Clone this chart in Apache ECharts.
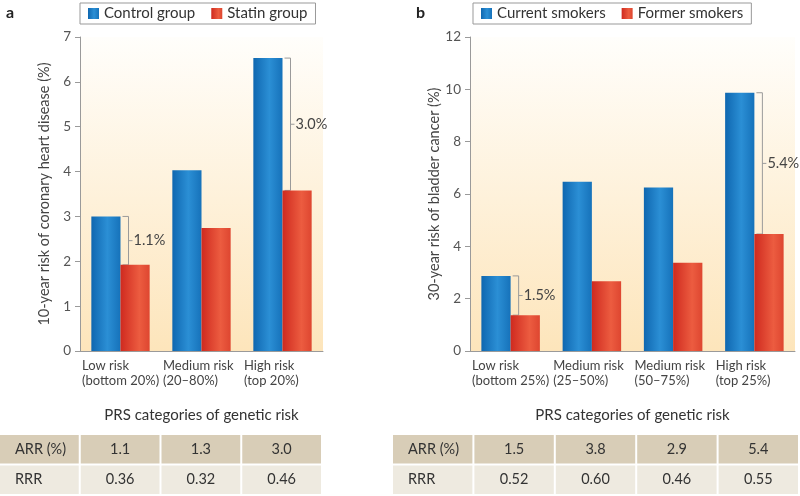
<!DOCTYPE html>
<html>
<head>
<meta charset="utf-8">
<script src="https://cdn.jsdelivr.net/npm/echarts@6/dist/echarts.min.js"></script>
<style>
  html, body { margin: 0; padding: 0; background: #fff; }
  #main { width: 800px; height: 496px; }
</style>
</head>
<body>
<div id="main"></div>
<script>
// panel a
const catsA = ['Low risk\n(bottom 20%)', 'Medium risk\n(20–80%)', 'High risk\n(top 20%)'];
const controlA = [3.0, 4.03, 6.53];
const statinA = [1.92, 2.74, 3.58];
const arrA = ['1.1', '1.3', '3.0'];
const rrrA = ['0.36', '0.32', '0.46'];
const bracketA = [0, 2];

// panel b
const catsB = ['Low risk\n(bottom 25%)', 'Medium risk\n(25–50%)', 'Medium risk\n(50–75%)', 'High risk\n(top 25%)'];
const currentB = [2.87, 6.47, 6.25, 9.87];
const formerB = [1.37, 2.67, 3.37, 4.47];
const arrB = ['1.5', '3.8', '2.9', '5.4'];
const rrrB = ['0.52', '0.60', '0.46', '0.55'];
const bracketB = [0, 3];

const font = 'Lato';
const gray = '#9a9a9a';

const plotBg = {
    type: 'linear', x: 0, y: 0, x2: 0, y2: 1,
    colorStops: [{ offset: 0, color: '#fffefb' }, { offset: 1, color: '#fde5bb' }]
};
const blue = {
    type: 'linear', x: 0, y: 0, x2: 1, y2: 0,
    colorStops: [{ offset: 0, color: '#0f67b0' }, { offset: 0.55, color: '#2b8fd5' }, { offset: 1, color: '#1672ba' }]
};
const red = {
    type: 'linear', x: 0, y: 0, x2: 1, y2: 0,
    colorStops: [{ offset: 0, color: '#cf2a1f' }, { offset: 0.65, color: '#ec5c40' }, { offset: 1, color: '#de4630' }]
};

function valueAxis(grid, max, interval, name) {
    return {
        type: 'value', gridIndex: grid, min: 0, max: max, interval: interval,
        name: name, nameLocation: 'middle', nameGap: 28,
        nameTextStyle: { fontSize: 14.5, color: '#444', fontFamily: font },
        axisLine: { show: true, lineStyle: { color: gray } },
        axisTick: { show: true, length: 5, lineStyle: { color: gray } },
        axisLabel: { fontSize: 13.5, color: '#555', margin: 9, fontFamily: font },
        splitLine: { show: false }
    };
}

function barAxis(grid, cats) {
    return {
        type: 'category', gridIndex: grid, data: cats,
        axisLine: { lineStyle: { color: gray } },
        axisTick: { length: 5, lineStyle: { color: gray } },
        axisLabel: { show: false }
    };
}

// second axis only to put the labels at the category start
function labelAxis(grid, cats) {
    return {
        type: 'category', gridIndex: grid, data: cats.concat(['']), boundaryGap: false,
        position: 'bottom',
        axisLine: { show: false }, axisTick: { show: false },
        axisLabel: { align: 'left', margin: 7, padding: [0, 0, 0, 2], fontSize: 13, lineHeight: 15, color: '#444', fontFamily: font, interval: 0 },
        name: 'PRS categories of genetic risk', nameLocation: 'middle', nameGap: 57,
        nameTextStyle: { fontSize: 15, color: '#333', fontFamily: font }
    };
}

function tableAxisX(grid, n) {
    const d = [];
    for (let i = 0; i < n; i++) d.push(i);
    return { type: 'category', gridIndex: grid, data: d, show: false };
}
function tableAxisY(grid) {
    return { type: 'category', gridIndex: grid, data: [0, 1], inverse: true, show: false };
}

function tableData(rows) {
    const d = [];
    rows.forEach(function (row, r) {
        row.forEach(function (t, c) { d.push({ value: [c, r], name: t }); });
    });
    return d;
}

function renderCell(params, api) {
    const c = api.value(0), r = api.value(1);
    const p = api.coord([c, r]);
    const s = api.size([1, 1]);
    const x0 = p[0] - s[0] / 2, y0 = p[1] - s[1] / 2;
    const text = params.context.rows[params.dataIndex];
    return {
        type: 'group',
        children: [{
            type: 'rect',
            shape: { x: x0, y: y0, width: s[0] - 2, height: s[1] - 2 },
            style: { fill: r === 0 ? '#d8cdb7' : '#eeeae0' }
        }, {
            type: 'text',
            style: {
                text: text,
                x: c === 0 ? x0 + 15 : p[0] - 1,
                y: p[1] - 1,
                align: c === 0 ? 'left' : 'center',
                verticalAlign: 'middle',
                fontSize: 14.5, fontFamily: font, fill: '#333'
            }
        }]
    };
}

function bracketData(idx, hi, lo, arr) {
    return idx.map(function (i) { return { value: [i, hi[i], lo[i]], name: arr[i] + '%' }; });
}

function renderBracket(params, api) {
    const i = api.value(0);
    const top = api.coord([i, api.value(1)]);
    const bot = api.coord([i, api.value(2)]);
    const x = top[0] + 8;
    const ym = (top[1] + bot[1]) / 2;
    const label = params.context.labels[params.dataIndex];
    return {
        type: 'group',
        children: [{
            type: 'polyline',
            shape: { points: [[x - 6, top[1]], [x, top[1]], [x, bot[1]], [x - 6, bot[1]]] },
            style: { stroke: gray, lineWidth: 1, fill: 'none' }
        }, {
            type: 'line',
            shape: { x1: x, y1: ym, x2: x + 4, y2: ym },
            style: { stroke: gray, lineWidth: 1 }
        }, {
            type: 'text',
            style: {
                text: label, x: x + 5, y: ym, align: 'left', verticalAlign: 'middle',
                fontSize: 14.5, fontFamily: font, fill: '#444'
            }
        }]
    };
}

function withContext(fn, key, list) {
    return function (params, api) {
        params.context[key] = list;
        return fn(params, api);
    };
}

const bA = bracketData(bracketA, controlA, statinA, arrA);
const bB = bracketData(bracketB, currentB, formerB, arrB);
const tA = tableData([['ARR (%)'].concat(arrA), ['RRR'].concat(rrrA)]);
const tB = tableData([['ARR (%)'].concat(arrB), ['RRR'].concat(rrrB)]);

const option = {
    animation: false,
    textStyle: { fontFamily: font },
    title: [
        { text: 'a', left: 1, top: 0, textStyle: { fontSize: 16, fontWeight: 'bold', color: '#222', fontFamily: font } },
        { text: 'b', left: 411, top: 0, textStyle: { fontSize: 16, fontWeight: 'bold', color: '#222', fontFamily: font } }
    ],
    legend: [{
        data: ['Control group', 'Statin group'],
        left: 80, top: 3, icon: 'rect', itemWidth: 11, itemHeight: 11, itemGap: 16,
        padding: [3, 8, 3, 8], borderColor: '#999', borderWidth: 1,
        textStyle: { fontSize: 15, color: '#333', fontFamily: font }
    }, {
        data: ['Current smokers', 'Former smokers'],
        left: 473, top: 3, icon: 'rect', itemWidth: 11, itemHeight: 11, itemGap: 16,
        padding: [3, 8, 3, 8], borderColor: '#999', borderWidth: 1,
        textStyle: { fontSize: 15, color: '#333', fontFamily: font }
    }],
    grid: [
        { left: 80, top: 37, width: 243, height: 314, show: true, backgroundColor: plotBg, borderWidth: 0 },
        { left: 470, top: 37, width: 328, height: 314, show: true, backgroundColor: plotBg, borderWidth: 0 },
        { left: 0, top: 435, width: 323, height: 61 },
        { left: 393, top: 435, width: 407, height: 61 }
    ],
    xAxis: [
        barAxis(0, catsA), labelAxis(0, catsA),
        barAxis(1, catsB), labelAxis(1, catsB),
        tableAxisX(2, 4), tableAxisX(3, 5)
    ],
    yAxis: [
        valueAxis(0, 7, 1, '10-year risk of coronary heart disease (%)'),
        valueAxis(1, 12, 2, '30-year risk of bladder cancer (%)'),
        tableAxisY(2), tableAxisY(3)
    ],
    series: [
        { name: 'Control group', type: 'bar', xAxisIndex: 0, yAxisIndex: 0, data: controlA,
          barGap: '0%', barCategoryGap: '28%', itemStyle: { color: blue } },
        { name: 'Statin group', type: 'bar', xAxisIndex: 0, yAxisIndex: 0, data: statinA,
          barGap: '0%', barCategoryGap: '28%', itemStyle: { color: red } },
        { name: 'Current smokers', type: 'bar', xAxisIndex: 2, yAxisIndex: 1, data: currentB,
          barGap: '0%', barCategoryGap: '28%', itemStyle: { color: blue } },
        { name: 'Former smokers', type: 'bar', xAxisIndex: 2, yAxisIndex: 1, data: formerB,
          barGap: '0%', barCategoryGap: '28%', itemStyle: { color: red } },
        { type: 'custom', xAxisIndex: 0, yAxisIndex: 0, data: bA, silent: true,
          renderItem: withContext(renderBracket, 'labels', bA.map(function (d) { return d.name; })) },
        { type: 'custom', xAxisIndex: 2, yAxisIndex: 1, data: bB, silent: true,
          renderItem: withContext(renderBracket, 'labels', bB.map(function (d) { return d.name; })) },
        { type: 'custom', xAxisIndex: 4, yAxisIndex: 2, data: tA, silent: true,
          renderItem: withContext(renderCell, 'rows', tA.map(function (d) { return d.name; })) },
        { type: 'custom', xAxisIndex: 5, yAxisIndex: 3, data: tB, silent: true,
          renderItem: withContext(renderCell, 'rows', tB.map(function (d) { return d.name; })) }
    ]
};

const myChart = echarts.init(document.getElementById('main'));
myChart.setOption(option);
</script>
</body>
</html>
